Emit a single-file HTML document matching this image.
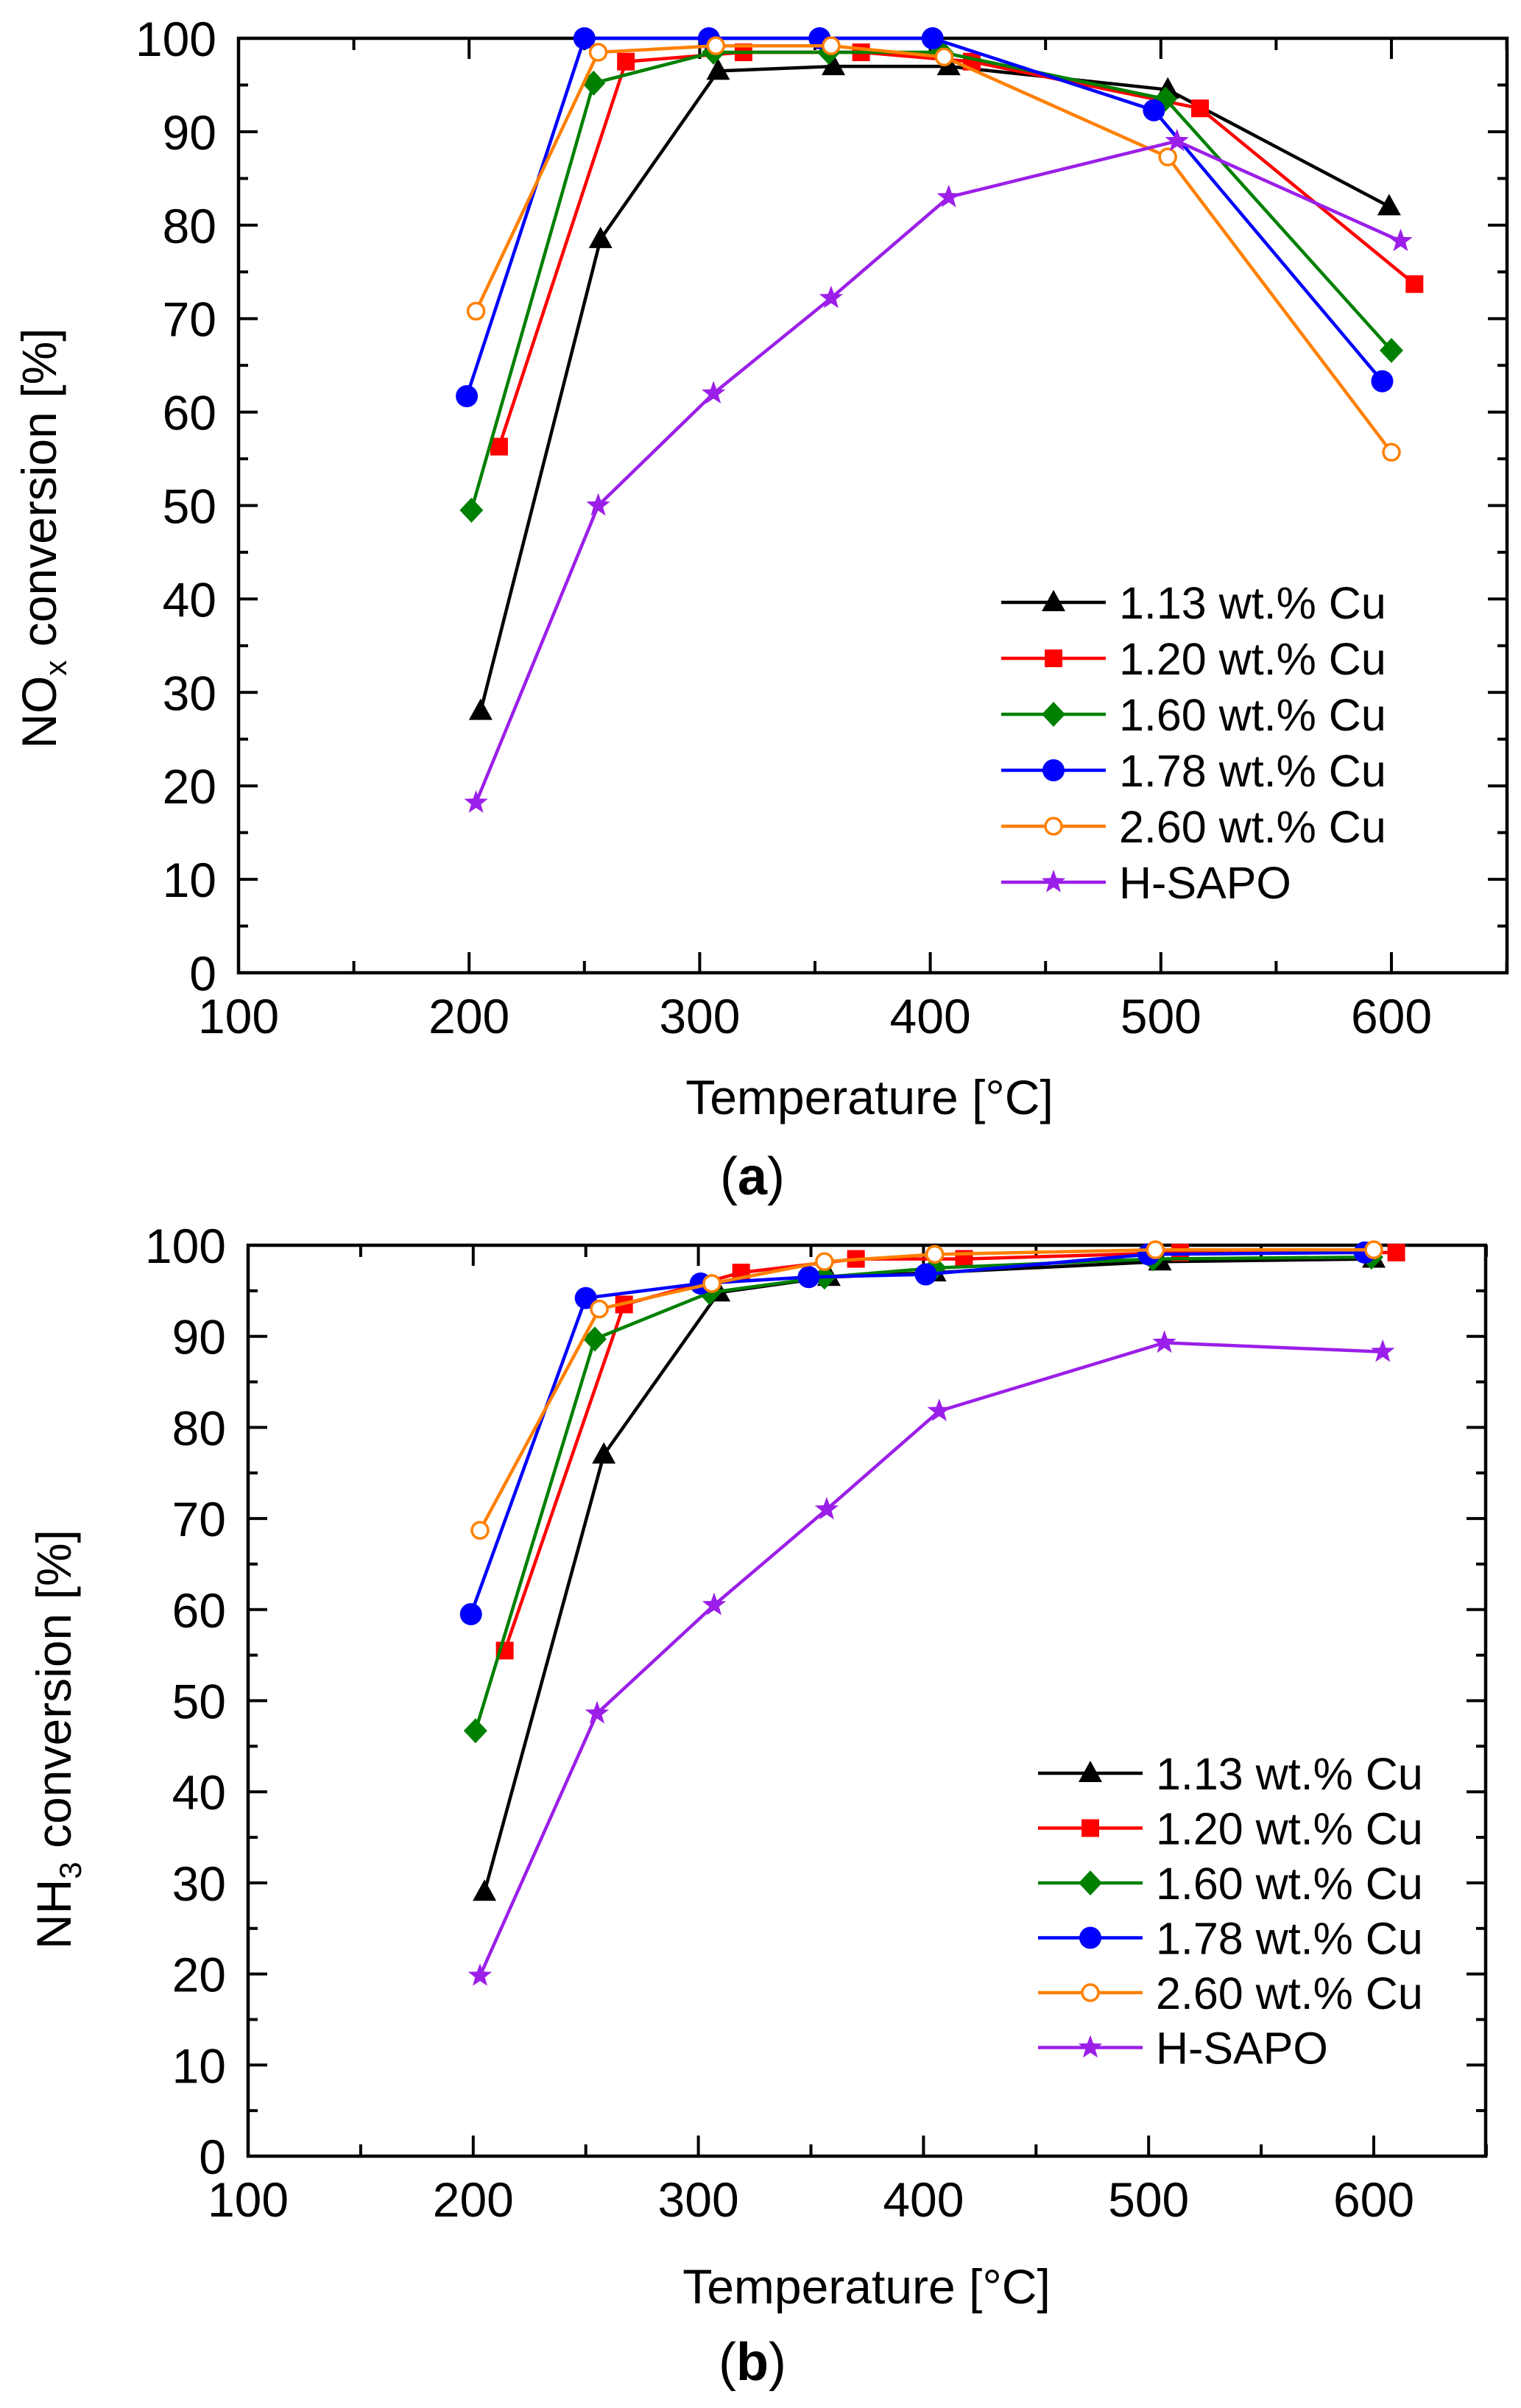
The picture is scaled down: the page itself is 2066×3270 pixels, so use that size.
<!DOCTYPE html>
<html><head><meta charset="utf-8"><style>
html,body{margin:0;padding:0;background:#fff}
svg{display:block}
text{font-family:"Liberation Sans",Arial,sans-serif;fill:#000}
</style></head><body>
<svg id="fig" width="2066" height="3270" viewBox="0 0 2066 3270" xmlns="http://www.w3.org/2000/svg">
<rect x="0" y="0" width="2066" height="3270" fill="#fff"/>
</svg>
<script>
// ---- data ----
const seriesNames = ["1.13 wt.% Cu","1.20 wt.% Cu","1.60 wt.% Cu","1.78 wt.% Cu","2.60 wt.% Cu","H-SAPO"];
const seriesColors = ["#000000","#ff0000","#008000","#0000ff","#ff8000","#9b1fe8"];
const seriesMarkers = ["tri","sq","dia","circ","ocirc","star"];
const xTicks = [100,200,300,400,500,600];
const yTicks = [0,10,20,30,40,50,60,70,80,90,100];

// Panel (a) NOx conversion
const aTemp113 = [205,257,308,358,408,503,599];
const aConv113 = [28,78.5,96.5,97,97,94.5,82];
const aTemp120 = [213,268,319,370,418,517,610];
const aConv120 = [56.3,97.5,98.5,98.5,97.5,92.5,73.7];
const aTemp160 = [201,254,306,356,405,502,600];
const aConv160 = [49.5,95.2,98.5,98.5,98.5,93.5,66.6];
const aTemp178 = [199,250,304,352,401,497,596];
const aConv178 = [61.7,100,100,100,100,92.3,63.3];
const aTemp260 = [203,256,307,357,406,503,600];
const aConv260 = [70.8,98.5,99.2,99.2,98,87.3,55.7];
const aTempH = [203,256,306,357,408,507,604];
const aConvH = [18.2,50,62,72.2,83,89,78.3];

// Panel (b) NH3 conversion
const bTemp113 = [205,258,309,358,405,505,600];
const bConv113 = [29,77,94.8,96.5,97,98.2,98.5];
const bTemp120 = [214,267,319,370,418,514,610];
const bConv120 = [55.5,93.5,97,98.5,98.5,99.2,99.2];
const bTemp160 = [201,254,305,356,405,502,599];
const bConv160 = [46.7,89.7,94.8,96.5,97.5,98.5,98.7];
const bTemp178 = [199,250,301,349,401,500,596];
const bConv178 = [59.5,94.2,95.8,96.5,96.8,99,99.2];
const bTemp260 = [203,256,306,356,405,503,600];
const bConv260 = [68.7,93,95.8,98.2,99,99.5,99.5];
const bTempH = [203,255,307,357,407,507,604];
const bConvH = [19.8,48.6,60.5,71,81.8,89.3,88.3];

const aTemps = [aTemp113,aTemp120,aTemp160,aTemp178,aTemp260,aTempH];
const aConvs = [aConv113,aConv120,aConv160,aConv178,aConv260,aConvH];
const bTemps = [bTemp113,bTemp120,bTemp160,bTemp178,bTemp260,bTempH];
const bConvs = [bConv113,bConv120,bConv160,bConv178,bConv260,bConvH];

const NS="http://www.w3.org/2000/svg";
const svg=document.getElementById('fig');
function mk(tag,attrs,parent){const e=document.createElementNS(NS,tag);for(const k in attrs)e.setAttribute(k,attrs[k]);(parent||svg).appendChild(e);return e;}

function marker(g,type,x,y,color){
  let e;const r=15;
  if(type==='tri'){e=mk('polygon',{points:`${x},${y-17} ${x-16},${y+12} ${x+16},${y+12}`,fill:color},g);}
  else if(type==='sq'){e=mk('rect',{x:x-12,y:y-12,width:24,height:24,fill:color},g);}
  else if(type==='dia'){e=mk('polygon',{points:`${x},${y-17} ${x+16},${y} ${x},${y+17} ${x-16},${y}`,fill:color},g);}
  else if(type==='circ'){e=mk('circle',{cx:x,cy:y,r:r,fill:color},g);}
  else if(type==='ocirc'){e=mk('circle',{cx:x,cy:y,r:11,fill:'#fff',stroke:color,'stroke-width':3.5},g);}
  else {let p=[];for(let i=0;i<10;i++){const a=-Math.PI/2+i*Math.PI/5;const rr=i%2?7:17;p.push((x+rr*Math.cos(a)).toFixed(1)+','+(y+rr*Math.sin(a)).toFixed(1));}
    e=mk('polygon',{points:p.join(' '),fill:color},g);}
  return e;
}

function panel(cfg){
  const {id,L,R,T,B,x100,x600,temps,convs,ylab,sub,tx,ty,yTitleX,yTitleY,legX,legY,legDy,cap,capY}=cfg;
  const g=mk('g',{});
  
  
  const xs=v=>x100+(v-100)*(x600-x100)/500;
  const ys=v=>B-(v/100)*(B-T);
  const tg=mk('g',{stroke:'#000','stroke-width':4},g);
  
  
  for(let v=100;v<=650;v+=50){const X=xs(v);const len=(v%100===0)?28:16;
    mk('line',{x1:X,y1:B,x2:X,y2:B-len},tg);mk('line',{x1:X,y1:T,x2:X,y2:T+len},tg);}
  for(let v=0;v<=100;v+=5){const Y=ys(v);const len=(v%10===0)?26:13;
    mk('line',{x1:L,y1:Y,x2:L+len,y2:Y},tg);mk('line',{x1:R,y1:Y,x2:R-len,y2:Y},tg);}
  const fr=mk('rect',{x:L,y:T,width:R-L,height:B-T,fill:'none',stroke:'#000','stroke-width':4.5},g);
  
  
  xTicks.forEach(v=>{const t=mk('text',{x:xs(v),y:B+82,'font-size':66,'text-anchor':'middle'},g);t.textContent=v;
    
    });
  yTicks.forEach(v=>{const t=mk('text',{x:L-30,y:ys(v)+24,'font-size':66,'text-anchor':'end'},g);t.textContent=v;
    
    });
  const xt=mk('text',{x:tx,y:ty,'font-size':66,'text-anchor':'middle'},g);xt.textContent='Temperature [°C]';
  
  
  const yt=mk('text',{transform:`translate(${yTitleX},${yTitleY}) rotate(-90)`,'font-size':66,'text-anchor':'middle'},g);
  
  
  const t1=mk('tspan',{},yt);t1.textContent=ylab;
  const t2=mk('tspan',{'font-size':42,dy:14},yt);t2.textContent=sub;
  const t3=mk('tspan',{dy:-14},yt);t3.textContent=' conversion [%]';
  for(let s=0;s<seriesNames.length;s++){
    const sg=mk('g',{},g);
    
    
    const pts=temps[s].map((t,i)=>xs(t).toFixed(1)+','+ys(convs[s][i]).toFixed(1)).join(' ');
    const pl=mk('polyline',{points:pts,fill:'none',stroke:seriesColors[s],'stroke-width':4.5,'stroke-linejoin':'round'},sg);
    
    
    temps[s].forEach((t,i)=>{const m=marker(sg,seriesMarkers[s],xs(t),ys(convs[s][i]),seriesColors[s]);
      
      });
  }
  const lg=mk('g',{},g);
  
  
  seriesNames.forEach((n,i)=>{const y=legY+i*legDy;
    const eg=mk('g',{},lg);
    
    
    mk('line',{x1:legX,y1:y,x2:legX+142,y2:y,stroke:seriesColors[i],'stroke-width':4.5},eg);
    marker(eg,seriesMarkers[i],legX+71,y,seriesColors[i]);
    const t=mk('text',{x:legX+160,y:y+22,'font-size':61},eg);t.textContent=n;});
  const c=mk('text',{x:1022,y:capY,'font-size':72,'text-anchor':'middle','font-family':'Liberation Serif, serif'},svg);
  
  
  const c1=mk('tspan',{},c);c1.textContent='(';
  const c2=mk('tspan',{'font-weight':'bold'},c);c2.textContent=cap;
  const c3=mk('tspan',{},c);c3.textContent=')';
}

panel({id:'panel-a',L:324,R:2047,T:52,B:1321,x100:324,x600:1890,temps:aTemps,convs:aConvs,ylab:'NO',sub:'x',
  tx:1181,ty:1513,yTitleX:76,yTitleY:731,legX:1360,legY:818,legDy:76,cap:'a',capY:1622});
panel({id:'panel-b',L:337,R:2018,T:1691,B:2928,x100:337,x600:1866,temps:bTemps,convs:bConvs,ylab:'NH',sub:'3',
  tx:1177,ty:3128,yTitleX:96,yTitleY:2362,legX:1410,legY:2408,legDy:74.5,cap:'b',capY:3232});
</script>
</body></html>
